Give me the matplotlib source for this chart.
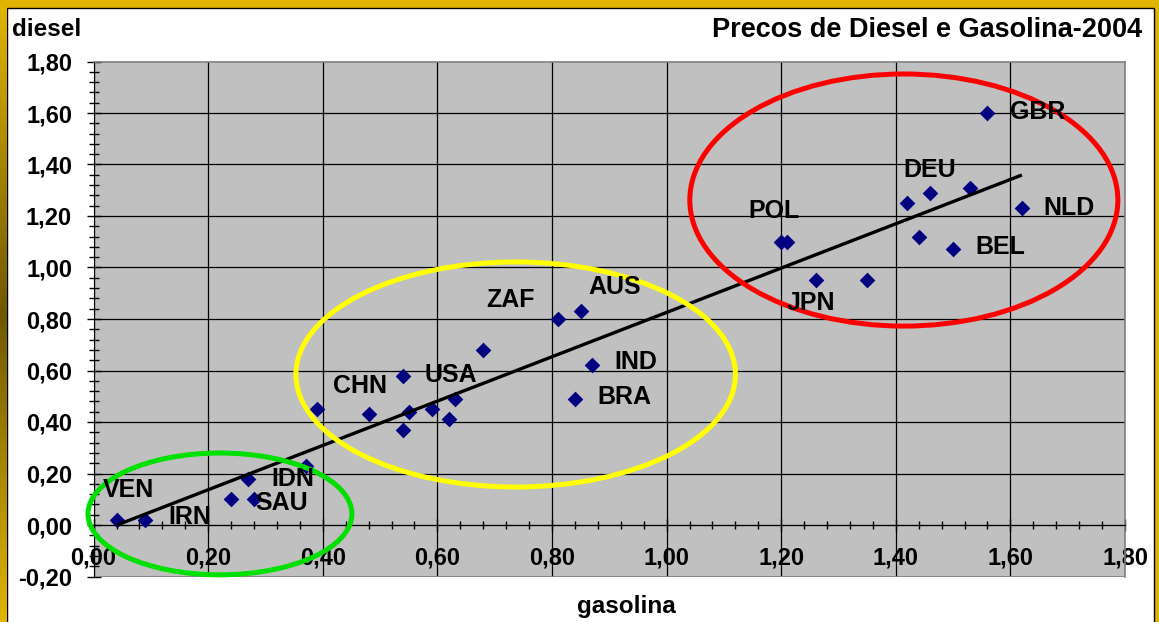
#!/usr/bin/env python3
"""Precos de Diesel e Gasolina-2004: scatter with linear trend and group ellipses."""
import matplotlib
matplotlib.use("Agg")
import matplotlib.pyplot as plt
import numpy as np
from matplotlib.colors import LinearSegmentedColormap
from matplotlib.patches import Ellipse, Rectangle
from matplotlib.ticker import FuncFormatter, MultipleLocator

# prices (US$/litre)
gasolina = [0.04, 0.09, 0.24, 0.28, 0.27, 0.37,
            0.39, 0.48, 0.54, 0.54, 0.55, 0.59, 0.62, 0.63, 0.68,
            0.81, 0.85, 0.87, 0.84,
            1.56, 1.42, 1.46, 1.53, 1.62, 1.44, 1.50, 1.20, 1.21, 1.26, 1.35]
diesel = [0.02, 0.02, 0.10, 0.10, 0.18, 0.23,
          0.45, 0.43, 0.58, 0.37, 0.44, 0.45, 0.41, 0.49, 0.68,
          0.80, 0.83, 0.62, 0.49,
          1.60, 1.25, 1.29, 1.31, 1.23, 1.12, 1.07, 1.10, 1.10, 0.95, 0.95]

# country codes shown on the chart and where their text sits (left, middle)
label_names = ["VEN", "IRN", "IDN", "SAU", "CHN", "USA", "ZAF", "AUS", "IND",
               "BRA", "GBR", "DEU", "POL", "NLD", "BEL", "JPN"]
label_x = [0.016, 0.130, 0.311, 0.282, 0.418, 0.578, 0.686, 0.863, 0.909,
           0.880, 1.599, 1.414, 1.142, 1.658, 1.539, 1.210]
label_y = [0.136, 0.030, 0.180, 0.085, 0.540, 0.583, 0.874, 0.924, 0.633,
           0.497, 1.602, 1.379, 1.219, 1.233, 1.078, 0.862]

# group ellipses: centre x, centre y, width, height, colour
groups = [
    (0.2205, 0.043, 0.4606, 0.473, "#00E000"),
    (0.7366, 0.5845, 0.767, 0.874, "#FFFF00"),
    (1.414, 1.262, 0.747, 0.979, "#FF0000"),
]

W, H = 1159, 622
GOLD = "#E0B400"
FONT = ["Liberation Sans", "DejaVu Sans"]


def comma_fmt(v, _pos):
    v = round(v, 2) + 0.0
    return f"{v:.2f}".replace(".", ",")


def main() -> None:
    plt.rcParams["font.family"] = FONT
    plt.rcParams["font.weight"] = "bold"

    fig = plt.figure(figsize=(W / 100, H / 100), dpi=100)
    fig.patch.set_facecolor(GOLD)
    fig.patches.append(Rectangle((7 / W, -0.05), (1154 - 7) / W, (H - 8) / H + 0.05,
                                 transform=fig.transFigure, facecolor="white",
                                 edgecolor="black", lw=1.0, zorder=-5))

    # shaded gold strip on the left edge of the frame
    strip = fig.add_axes([0, 0, 6.5 / W, 1 - 7 / H])
    strip.set_axis_off()
    cmap = LinearSegmentedColormap.from_list("frame", [GOLD, "#6E5800", GOLD])
    strip.imshow(np.linspace(0, 1, 256).reshape(-1, 1), cmap=cmap, aspect="auto")

    ax = fig.add_axes([93.6 / W, 45.5 / H, (1125 - 93.6) / W, (576.5 - 61.5) / H])
    ax.set_facecolor("#C0C0C0")
    ax.set_xlim(0, 1.8)
    ax.set_ylim(-0.2, 1.8)

    ax.set_xticks(np.arange(0, 1.81, 0.2))
    ax.set_yticks(np.arange(-0.2, 1.81, 0.2))
    ax.xaxis.set_minor_locator(MultipleLocator(0.04))
    ax.yaxis.set_minor_locator(MultipleLocator(0.04))
    ax.xaxis.set_major_formatter(FuncFormatter(comma_fmt))
    ax.yaxis.set_major_formatter(FuncFormatter(comma_fmt))
    ax.grid(True, which="major", color="black", lw=0.9)
    ax.set_axisbelow(True)
    # outer edges of the plot area are drawn by the grey spines
    ax.yaxis.get_gridlines()[0].set_visible(False)
    ax.yaxis.get_gridlines()[-1].set_visible(False)
    ax.xaxis.get_gridlines()[-1].set_visible(False)

    ax.spines["bottom"].set_position(("data", 0))
    ax.spines["bottom"].set_color("black")
    ax.spines["left"].set_color("black")
    for s in ("top", "right"):
        ax.spines[s].set_color("#808080")
        ax.spines[s].set_linewidth(1.2)
    ax.axhline(-0.2, color="#808080", lw=1.2, zorder=1)

    ax.tick_params(axis="x", which="major", direction="inout", length=8.6, width=1,
                   pad=11.5, labelsize=17)
    ax.tick_params(axis="x", which="minor", direction="inout", length=5.5, width=1)
    ax.tick_params(axis="y", which="major", direction="inout", length=10, width=1,
                   pad=10.5, labelsize=17)
    ax.tick_params(axis="y", which="minor", direction="inout", length=7, width=1)
    for lab in ax.get_xticklabels() + ax.get_yticklabels():
        lab.set_fontweight("bold")

    ax.scatter(gasolina, diesel, marker="D", s=64, color="#000080", lw=0, zorder=3)

    gx = np.asarray(gasolina)
    k, b = np.polyfit(gx, np.asarray(diesel), 1)
    xs = np.array([gx.min(), gx.max()])
    ax.plot(xs, k * xs + b, color="black", lw=2.4, zorder=4, solid_capstyle="butt")

    for cx, cy, ew, eh, col in groups:
        ax.add_patch(Ellipse((cx, cy), ew, eh, facecolor="none", edgecolor=col,
                             lw=3.6, zorder=5, clip_on=False))

    for name, tx, ty in zip(label_names, label_x, label_y):
        ax.text(tx, ty, name, fontsize=18, fontweight="bold", ha="left",
                va="center", zorder=6)

    fig.text(12 / W, 1 - 30 / H, "diesel", fontsize=17.5, fontweight="bold",
             ha="left", va="center")
    fig.text(1142 / W, 1 - 30 / H, "Precos de Diesel e Gasolina-2004", fontsize=19.5,
             fontweight="bold", ha="right", va="center")
    fig.text(626 / W, 1 - 606 / H, "gasolina", fontsize=17.5, fontweight="bold",
             ha="center", va="center")

    fig.savefig("out.png", dpi=100, facecolor=fig.get_facecolor())
    plt.close(fig)


if __name__ == "__main__":
    main()
